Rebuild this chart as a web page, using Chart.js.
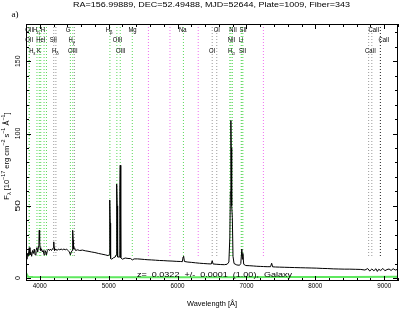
<!DOCTYPE html>
<html>
<head>
<meta charset="utf-8">
<script src="https://cdn.jsdelivr.net/npm/chart.js@4.4.0/dist/chart.umd.min.js"></script>
<style>
  html, body { margin: 0; padding: 0; background: #fff; }
  #wrap { width: 399px; height: 310px; }
</style>
</head>
<body>
<div id="wrap"><canvas id="spec" width="399" height="310"></canvas></div>
<script>
const wave = [3800, 3812, 3822, 3832, 3847, 3858, 3870, 3882, 3895, 3908, 3920, 3932, 3945, 3959, 3970, 3982, 3988, 3993, 3998, 4004,
  4014, 4026, 4038, 4050, 4062, 4075, 4087, 4098, 4110, 4125, 4140, 4155, 4170, 4185, 4198, 4203, 4208, 4215, 4234, 4250,
  4270, 4290, 4310, 4330, 4350, 4370, 4390, 4410, 4430, 4444, 4458, 4470, 4475, 4480, 4485, 4490, 4504, 4520, 4550, 4580,
  4620, 4660, 4700, 4750, 4800, 4850, 4900, 4950, 4990, 5008, 5013, 5018, 5023, 5028, 5045, 5070, 5095, 5108, 5114, 5119,
  5124, 5130, 5150, 5160, 5163, 5168, 5173, 5178, 5200, 5240, 5280, 5320, 5343, 5370, 5420, 5470, 5520, 5570, 5620, 5680,
  5740, 5800, 5860, 5920, 5980, 6040, 6070, 6080, 6088, 6100, 6150, 6200, 6260, 6320, 6380, 6440, 6490, 6503, 6515, 6560,
  6620, 6680, 6720, 6745, 6759, 6767, 6774, 6779, 6786, 6795, 6805, 6820, 6860, 6900, 6918, 6933, 6941, 6948, 6960, 6990,
  7040, 7100, 7150, 7200, 7250, 7300, 7350, 7366, 7380, 7420, 7480, 7550, 7620, 7700, 7780, 7860, 7940, 8020, 8100, 8180,
  8260, 8340, 8420, 8500, 8580, 8660, 8720, 8760, 8790, 8820, 8850, 8880, 8900, 8920, 8950, 8980, 9010, 9040, 9070, 9100,
  9130, 9160, 9200];
const flux = [15, 13, 17, 15, 21, 16, 18, 15, 19, 17, 20, 16, 19, 21, 18, 22, 26, 33, 26, 21,
  19, 20, 18, 19, 16, 19, 18, 16, 19, 20, 19, 20, 19, 20, 21, 25, 21, 19, 20, 19,
  20, 19.5, 20, 19.5, 20, 19.5, 20, 19, 18, 16, 18, 19, 26, 33, 26, 20, 21, 19, 19.5, 19,
  19.3, 18.8, 18.5, 18, 17.6, 17, 16.5, 16, 15.5, 16, 40, 54, 38, 13.5, 13, 14, 14.5, 16, 50, 65,
  50, 14.5, 14.5, 16, 60, 78, 60, 14, 13, 13.8, 13.5, 13.4, 12.5, 13.2, 13.2, 13, 12.8, 12.6, 12.5, 12.3,
  12.1, 12, 11.8, 11.7, 11.5, 11.4, 11.3, 14.5, 15, 11.4, 11, 10.8, 10.5, 10.2, 10, 9.8, 9.7, 12, 9.7, 9.5,
  9.3, 9.2, 9.5, 11, 28, 60, 109, 90, 50, 42, 15, 10, 9, 8.8, 10, 20, 13, 17, 9.5, 8.6,
  8.5, 8.3, 8.1, 8, 7.9, 7.8, 7.8, 10.2, 7.7, 7.6, 7.5, 7.4, 7.3, 7.2, 7.1, 7, 6.9, 6.8, 6.6, 6.5,
  6.3, 6.2, 6.1, 6.1, 6, 5.9, 5.5, 6.5, 4.8, 6.2, 5, 6.4, 4.5, 6, 5.2, 6.6, 5, 5.8, 6.2, 5.2,
  6.4, 5.5, 6];

// error spectrum (green band at the bottom)
const errWave = [3800, 3815, 3830, 3900, 4500, 5500, 6500, 7500, 8500, 9200];
const errFlux = [0.6, 2.2, 0.8, 0.6, 0.5, 0.5, 0.5, 0.6, 0.7, 0.8];

// marked lines: em = emission, abs = absorption, sky = sky line, absk = dark absorption
const lineWave = [3846, 3849, 3959, 3993, 4014, 4062, 4097, 4203, 4234, 4444, 4480, 4504, 5018, 5119, 5168, 5343,
  5577, 5890, 6085, 6300, 6503, 6569, 6759, 6774, 6795, 6924, 6933, 6948, 7246, 8774, 8820, 8944];
const lineKind = ['em', 'em', 'em', 'em', 'em', 'em', 'em', 'abs', 'abs', 'em', 'em', 'abs', 'em', 'em', 'em', 'em',
  'sky', 'sky', 'em', 'sky', 'abs', 'abs', 'em', 'em', 'em', 'em', 'em', 'em', 'sky', 'abs', 'abs', 'absk'];

const labelText = ['OII', 'H_η', 'H', 'G', 'H_β', 'Mg', 'Na', 'OI', 'NII', 'SII', 'CaII',
  'OII', 'HeI', 'SII', 'H_γ', 'OIII', 'NII', 'Li', 'CaII',
  'H_ε', 'K', 'H_δ', 'OIII', 'OIII', 'OI', 'H_α', 'SII', 'CaII'];
const labelWave = [3846, 3950, 4045, 4409, 5005, 5346, 6075, 6569, 6806, 6951, 8851,
  3846, 4015, 4197, 4462, 5129, 6784, 6922, 8996,
  3890, 3989, 4226, 4480, 5175, 6500, 6781, 6944, 8800];
const labelRow = [0, 0, 0, 0, 0, 0, 0, 0, 0, 0, 0,
  1, 1, 1, 1, 1, 1, 1, 1,
  2, 2, 2, 2, 2, 2, 2, 2, 2];

const xTicks = [4000, 5000, 6000, 7000, 8000, 9000];
const yTicks = [0, 50, 100, 150];

const xMin = 3800, xMax = 9200, yMin = -2.1, yMax = 175.8;
const lineTop = yMax, lineBottom = 14.5;

const kindColor = { em: '#5ad85a', abs: '#9a9a9a', absk: '#222222', sky: '#f070f0' };
const SANS = '"Liberation Sans", Arial, sans-serif';

function textAt(ctx, str, cx, cy, size, width) {
  ctx.font = size + 'px ' + SANS;
  const w = ctx.measureText(str).width;
  const sx = width ? width / w : 1;
  ctx.save();
  ctx.translate(cx, cy);
  ctx.scale(sx, 1);
  ctx.textAlign = 'center';
  ctx.textBaseline = 'middle';
  ctx.fillText(str, 0, 0);
  ctx.restore();
}

// parts: [{t, sub, sup}] drawn centred on (0,0) of the current transform
function richText(ctx, parts, size, sx) {
  const small = size * 0.72;
  let total = 0;
  parts.forEach(p => {
    ctx.font = (p.sub || p.sup ? small : size) + 'px ' + SANS;
    p.w = ctx.measureText(p.t).width;
    total += p.w;
  });
  let x = -total * sx / 2;
  ctx.textAlign = 'left';
  ctx.textBaseline = 'middle';
  parts.forEach(p => {
    ctx.font = (p.sub || p.sup ? small : size) + 'px ' + SANS;
    const dy = p.sub ? size * 0.38 : p.sup ? -size * 0.4 : 0;
    ctx.save();
    ctx.translate(x, dy);
    ctx.scale(sx, 1);
    ctx.fillText(p.t, 0, 0);
    ctx.restore();
    x += p.w * sx;
  });
}

function labelParts(s) {
  const i = s.indexOf('_');
  return i < 0 ? [{ t: s }] : [{ t: s.slice(0, i) }, { t: s.slice(i + 1), sub: true }];
}

const decor = {
  id: 'decor',
  afterDatasetsDraw(chart) {
    const { ctx, chartArea: a, scales: { x, y } } = chart;
    ctx.save();
    ctx.fillStyle = '#000';

    // line labels in three rows
    const rowY = [30, 40, 51];
    labelText.forEach((s, i) => {
      ctx.save();
      ctx.translate(x.getPixelForValue(labelWave[i]), rowY[labelRow[i]]);
      richText(ctx, labelParts(s), 7.2, 0.82);
      ctx.restore();
    });

    // frame
    ctx.strokeStyle = '#000';
    ctx.lineWidth = 1;
    ctx.strokeRect(a.left + 0.5, a.top + 0.5, a.right - a.left - 1, a.bottom - a.top - 1);

    // inward ticks
    ctx.beginPath();
    for (let v = 3800; v <= 9200; v += 200) {
      const px = Math.round(x.getPixelForValue(v)) + 0.5;
      const len = v % 1000 === 0 ? 5 : 3;
      ctx.moveTo(px, a.bottom); ctx.lineTo(px, a.bottom - len);
      ctx.moveTo(px, a.top); ctx.lineTo(px, a.top + len);
    }
    for (let v = 0; v <= 170; v += 10) {
      const py = Math.round(y.getPixelForValue(v)) + 0.5;
      const len = v % 50 === 0 ? 5 : 3;
      ctx.moveTo(a.left, py); ctx.lineTo(a.left + len, py);
      ctx.moveTo(a.right, py); ctx.lineTo(a.right - len, py);
    }
    ctx.stroke();

    // tick labels
    xTicks.forEach(v => textAt(ctx, String(v), x.getPixelForValue(v), a.bottom + 5, 7, 14));
    yTicks.forEach(v => {
      ctx.save();
      ctx.translate(18, y.getPixelForValue(v));
      ctx.rotate(-Math.PI / 2);
      textAt(ctx, String(v), 0, 0, 7, v < 10 ? 4 : 11.5);
      ctx.restore();
    });

    // axis titles
    textAt(ctx, 'Wavelength [Å]', 212, 304, 7.5, 50);
    ctx.save();
    ctx.translate(7, 156);
    ctx.rotate(-Math.PI / 2);
    richText(ctx, [{ t: 'F' }, { t: 'λ', sub: true }, { t: ' [10' }, { t: '−17', sup: true }, { t: ' erg cm' },
      { t: '−2', sup: true }, { t: ' s' }, { t: '−1', sup: true }, { t: ' Å' }, { t: '−1', sup: true }, { t: ']' }], 7.5, 1);
    ctx.restore();

    // header, panel letter and redshift note
    textAt(ctx, 'RA=156.99889, DEC=52.49488, MJD=52644, Plate=1009, Fiber=343', 211.5, 5, 7, 277);
    ctx.font = '9px "Liberation Serif", serif';
    ctx.textAlign = 'center';
    ctx.textBaseline = 'middle';
    ctx.fillText('a)', 15, 15);
    textAt(ctx, 'z=  0.0322  +/-  0.0001  (1.00),  Galaxy', 214.5, 274.5, 7.5, 155);
    ctx.restore();
  }
};

const datasets = [
  {
    data: wave.map((w, i) => ({ x: w, y: flux[i] })),
    borderColor: '#000', borderWidth: 1, order: 0
  },
  {
    data: errWave.map((w, i) => ({ x: w, y: errFlux[i] })),
    borderColor: '#5ee85e', borderWidth: 2, order: 1
  }
];
lineWave.forEach((w, i) => {
  datasets.push({
    data: [{ x: w, y: lineTop }, { x: w, y: lineBottom }],
    borderColor: kindColor[lineKind[i]], borderWidth: 1, borderDash: [1, 2], order: 2
  });
});

new Chart(document.getElementById('spec'), {
  type: 'line',
  data: { datasets },
  options: {
    responsive: false,
    animation: false,
    devicePixelRatio: 1,
    layout: { padding: { left: 26, top: 24, right: 1, bottom: 29 } },
    elements: { point: { radius: 0 }, line: { tension: 0 } },
    plugins: { legend: { display: false }, tooltip: { enabled: false } },
    scales: {
      x: { type: 'linear', min: xMin, max: xMax, display: false },
      y: { type: 'linear', min: yMin, max: yMax, display: false }
    }
  },
  plugins: [decor]
});
</script>
</body>
</html>
